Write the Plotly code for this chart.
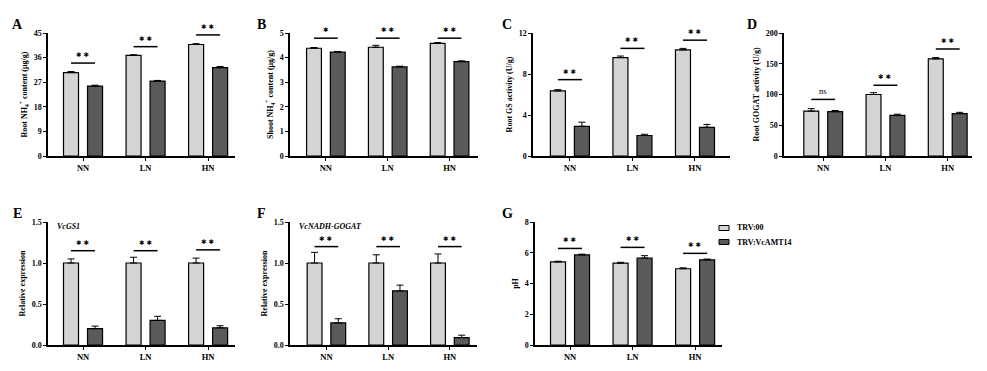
import plotly.graph_objects as go

# ---------------- data ----------------
categories = ["NN", "LN", "HN"]
series_names = ["TRV:00", "TRV:VcAMT14"]

# A  Root NH4+ content (ug/g)
a_trv00 = [30.5, 36.8, 40.8]
a_trv00_err = [0.4, 0.25, 0.3]
a_vcamt14 = [25.6, 27.4, 32.3]
a_vcamt14_err = [0.3, 0.25, 0.45]
a_sig_y = [34.0, 40.0, 44.3]
a_sig = ["**", "**", "**"]

# B  Shoot NH4+ content (ug/g)
b_trv00 = [4.38, 4.42, 4.58]
b_trv00_err = [0.03, 0.08, 0.03]
b_vcamt14 = [4.22, 3.62, 3.84]
b_vcamt14_err = [0.03, 0.03, 0.03]
b_sig_y = [4.79, 4.79, 4.79]
b_sig = ["*", "**", "**"]

# C  Root GS activity (U/g)
c_trv00 = [6.35, 9.6, 10.35]
c_trv00_err = [0.12, 0.15, 0.15]
c_vcamt14 = [2.9, 2.0, 2.8]
c_vcamt14_err = [0.4, 0.12, 0.28]
c_sig_y = [7.45, 10.5, 11.3]
c_sig = ["**", "**", "**"]

# D  Root GOGAT activity (U/g)
d_trv00 = [73, 100, 158]
d_trv00_err = [4, 3, 2]
d_vcamt14 = [72, 66, 69]
d_vcamt14_err = [2, 2, 2]
d_sig_y = [92, 115, 174]
d_sig = ["ns", "**", "**"]

# E  VcGS1 relative expression
e_trv00 = [1.0, 1.0, 1.0]
e_trv00_err = [0.05, 0.07, 0.06]
e_vcamt14 = [0.2, 0.3, 0.21]
e_vcamt14_err = [0.03, 0.05, 0.025]
e_sig_y = [1.15, 1.15, 1.16]
e_sig = ["**", "**", "**"]

# F  VcNADH-GOGAT relative expression
f_trv00 = [1.0, 1.0, 1.0]
f_trv00_err = [0.13, 0.1, 0.11]
f_vcamt14 = [0.27, 0.66, 0.09]
f_vcamt14_err = [0.05, 0.07, 0.03]
f_sig_y = [1.2, 1.2, 1.2]
f_sig = ["**", "**", "**"]

# G  pH
g_trv00 = [5.4, 5.32, 4.96]
g_trv00_err = [0.05, 0.06, 0.06]
g_vcamt14 = [5.86, 5.66, 5.54]
g_vcamt14_err = [0.05, 0.15, 0.05]
g_sig_y = [6.28, 6.35, 5.96]
g_sig = ["**", "**", "**"]

# ---------------- style / layout ----------------
PAGE_OFF = 8                 # default body margin of the html page
FW, FH = 987 - 2 * PAGE_OFF, 371 - 2 * PAGE_OFF
FONT = "Liberation Serif"
STAR_FONT = "DejaVu Sans"
LIGHT = "#d4d4d4"
DARK = "#5a5a5a"
BAR_W = 0.24
OFF_L = -0.312
OFF_D = 0.072


def px_x(p):
    return (p - PAGE_OFF) / FW


def px_y(p):
    return 1 - (p - PAGE_OFF) / FH


TOP = (33, 156)
BOT = (222, 345)

panels = [
    dict(letter="A", c=a_trv00, ce=a_trv00_err, t=a_vcamt14, te=a_vcamt14_err, sy=a_sig_y, sl=a_sig,
         ymax=45, dtick=9, fmt="d", title="Root NH<sub>4</sub><sup>+</sup> content (μg/g)",
         xd=(48, 235), row=TOP, xr=(-0.56, 2.43), lx=17, gene=None),
    dict(letter="B", c=b_trv00, ce=b_trv00_err, t=b_vcamt14, te=b_vcamt14_err, sy=b_sig_y, sl=b_sig,
         ymax=5, dtick=1, fmt="d", title="Shoot NH<sub>4</sub><sup>+</sup> content (μg/g)",
         xd=(290, 478), row=TOP, xr=(-0.58, 2.46), lx=262, gene=None),
    dict(letter="C", c=c_trv00, ce=c_trv00_err, t=c_vcamt14, te=c_vcamt14_err, sy=c_sig_y, sl=c_sig,
         ymax=12, dtick=4, fmt="d", title="Root GS activity (U/g)",
         xd=(533, 730), row=TOP, xr=(-0.59, 2.56), lx=507, gene=None),
    dict(letter="D", c=d_trv00, ce=d_trv00_err, t=d_vcamt14, te=d_vcamt14_err, sy=d_sig_y, sl=d_sig,
         ymax=200, dtick=50, fmt="d", title="Root GOGAT activity (U/g)",
         xd=(784, 972), row=TOP, xr=(-0.63, 2.39), lx=752, gene=None),
    dict(letter="E", c=e_trv00, ce=e_trv00_err, t=e_vcamt14, te=e_vcamt14_err, sy=e_sig_y, sl=e_sig,
         ymax=1.5, dtick=0.5, fmt=".1f", title="Relative expression",
         xd=(48, 235), row=BOT, xr=(-0.56, 2.43), lx=17, gene="VcGS1"),
    dict(letter="F", c=f_trv00, ce=f_trv00_err, t=f_vcamt14, te=f_vcamt14_err, sy=f_sig_y, sl=f_sig,
         ymax=1.5, dtick=0.5, fmt=".1f", title="Relative expression",
         xd=(290, 477), row=BOT, xr=(-0.59, 2.44), lx=262, gene="VcNADH-GOGAT"),
    dict(letter="G", c=g_trv00, ce=g_trv00_err, t=g_vcamt14, te=g_vcamt14_err, sy=g_sig_y, sl=g_sig,
         ymax=8, dtick=2, fmt="d", title="pH",
         xd=(535, 722), row=BOT, xr=(-0.56, 2.43), lx=507, gene=None),
]

fig = go.Figure()
layout = dict(
    width=FW, height=FH,
    margin=dict(l=0, r=0, t=0, b=0),
    paper_bgcolor="white", plot_bgcolor="white",
    barmode="overlay", showlegend=False,
    font=dict(family=FONT, color="black"),
)
annotations = []
shapes = []

for i, p in enumerate(panels):
    n = i + 1
    s = "" if n == 1 else str(n)
    xa, ya = "x" + s, "y" + s

    for vals, errs, col, off, nm in ((p["c"], p["ce"], LIGHT, OFF_L, series_names[0]),
                                    (p["t"], p["te"], DARK, OFF_D, series_names[1])):
        fig.add_trace(go.Bar(
            x=categories, y=vals, name=nm, xaxis=xa, yaxis=ya,
            width=BAR_W, offset=off,
            marker=dict(color=col, line=dict(color="black", width=1.2)),
            error_y=dict(type="data", array=errs, arrayminus=[0] * len(errs), symmetric=False,
                         color="black", thickness=1, width=3.5),
        ))

    layout["xaxis" + s] = dict(
        domain=[px_x(p["xd"][0]), px_x(p["xd"][1])], anchor=ya,
        type="category", categoryorder="array", categoryarray=categories,
        range=list(p["xr"]), showline=True, linecolor="black", linewidth=1.5,
        ticks="outside", ticklen=3, tickwidth=1, tickcolor="black",
        tickfont=dict(family=FONT, size=8.5, color="black", weight="bold"),
        showgrid=False, zeroline=False, automargin=False, fixedrange=True,
    )
    layout["yaxis" + s] = dict(
        domain=[px_y(p["row"][1]), px_y(p["row"][0])], anchor=xa,
        range=[0, p["ymax"]], dtick=p["dtick"], tick0=0, tickformat=p["fmt"],
        showline=True, linecolor="black", linewidth=1.5,
        ticks="outside", ticklen=3, tickwidth=1, tickcolor="black",
        tickfont=dict(family=FONT, size=8, color="black", weight="bold"),
        title=dict(text=p["title"], standoff=5,
                   font=dict(family=FONT, size=8, color="black", weight="bold")),
        showgrid=False, zeroline=False, automargin=False, fixedrange=True,
    )

    # panel letter
    annotations.append(dict(
        text="<b>%s</b>" % p["letter"], xref="paper", yref="paper",
        x=px_x(p["lx"]), y=px_y(p["row"][0] - 9), xanchor="center", yanchor="middle",
        showarrow=False, font=dict(family=FONT, size=14, color="black"),
    ))
    if p["gene"]:
        annotations.append(dict(
            text="<b><i>%s</i></b>" % p["gene"], xref="paper", yref="paper",
            x=px_x(p["xd"][0] + 7), y=px_y(p["row"][0] + 5), xanchor="left", yanchor="middle",
            showarrow=False, font=dict(family=FONT, size=8, color="black"),
        ))

    # significance lines + labels
    for k, cat in enumerate(categories):
        shapes.append(dict(
            type="line", xref=xa, yref=ya,
            x0=k + OFF_L + BAR_W / 2, x1=k + OFF_D + BAR_W / 2,
            y0=p["sy"][k], y1=p["sy"][k],
            line=dict(color="black", width=1.5),
        ))
        is_ns = p["sl"][k] == "ns"
        if is_ns:
            annotations.append(dict(
                text=p["sl"][k], xref=xa, yref=ya,
                x=cat, y=p["sy"][k], xanchor="center", yanchor="bottom",
                yshift=1, showarrow=False,
                font=dict(family=FONT, size=8.5, color="black"),
            ))
        else:
            annotations.append(dict(
                text=p["sl"][k].replace("*", "✱ ").strip(), xref=xa, yref=ya,
                x=cat, y=p["sy"][k], xanchor="center", yanchor="bottom",
                yshift=2, showarrow=False,
                font=dict(family=STAR_FONT, size=6.5, color="black"),
            ))

# legend (drawn manually, GraphPad style)
leg_y = [228, 242]
for j, (nm, col) in enumerate(zip(series_names, [LIGHT, DARK])):
    shapes.append(dict(
        type="rect", xref="paper", yref="paper",
        x0=px_x(719), x1=px_x(729), y0=px_y(leg_y[j] + 2.5), y1=px_y(leg_y[j] - 2.5),
        fillcolor=col, line=dict(color="black", width=1),
    ))
    annotations.append(dict(
        text="<b>%s</b>" % nm, xref="paper", yref="paper",
        x=px_x(735), y=px_y(leg_y[j]), xanchor="left", yanchor="middle",
        showarrow=False, font=dict(family=FONT, size=8, color="black"),
    ))

layout["annotations"] = annotations
layout["shapes"] = shapes
fig.update_layout(**layout)
fig.write_html("out.html")
